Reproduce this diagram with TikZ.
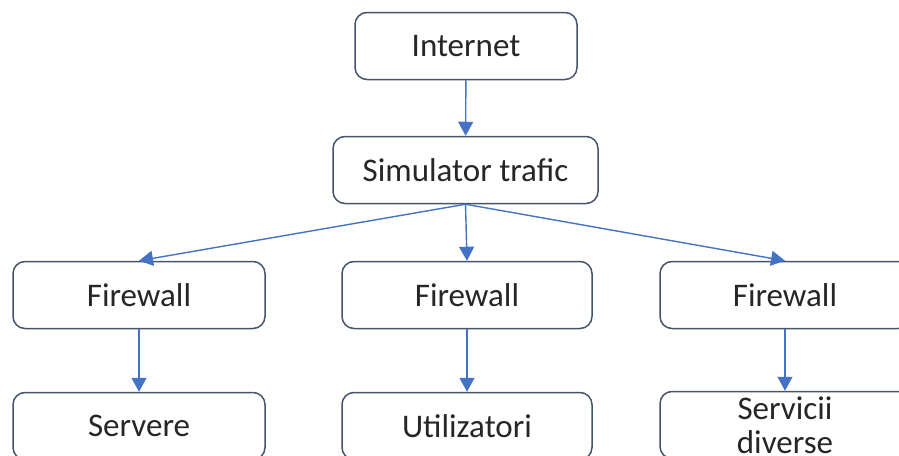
\documentclass[tikz,border=0pt]{standalone}
\usepackage{fontspec}
\setmainfont{Carlito}
\usetikzlibrary{arrows.meta}
\definecolor{boxline}{RGB}{68,84,106}
\definecolor{arrowblue}{RGB}{68,114,196}
\definecolor{txtgray}{RGB}{38,38,38}
\tikzset{
  block/.style={draw=boxline,line width=1.5pt,rounded corners=12pt,fill=white,
    text=txtgray,font=\fontsize{33}{37}\selectfont,minimum height=67pt,
    inner sep=2pt,align=center},
  flow/.style={draw=arrowblue,line width=1.4pt,-{Triangle[length=14pt,width=15pt]}}
}
\begin{document}
\begin{tikzpicture}[x=1pt,y=-1pt]
\useasboundingbox (0,0) rectangle (899,455);
\clip (0,0) rectangle (899,455);
\node[block,minimum width=222pt] (inet) at (466,46) {Internet};
\node[block,minimum width=265pt] (sim) at (465.5,170) {Simulator trafic};
\node[block,minimum width=252pt] (fwA) at (139,295) {Firewall};
\node[block,minimum width=250pt] (fwB) at (467,295) {Firewall};
\node[block,minimum width=250pt] (fwC) at (785,295) {Firewall};
\node[block,minimum width=252pt] (srv) at (139,426) {Servere};
\node[block,minimum width=250pt] (usr) at (467,426) {Utilizatori};
\node[block,minimum width=250pt,font=\fontsize{33}{34}\selectfont] (svc) at (785,425) {Servicii\\diverse};

\draw[flow] (inet) -- (sim);
\draw[flow] (sim.south) -- (fwA.north);
\draw[flow] (sim.south) -- (fwB.north);
\draw[flow] (sim.south) -- (fwC.north);
\draw[flow] (fwA) -- (srv);
\draw[flow] (fwB) -- (usr);
\draw[flow] (fwC) -- (svc);
\end{tikzpicture}
\end{document}
